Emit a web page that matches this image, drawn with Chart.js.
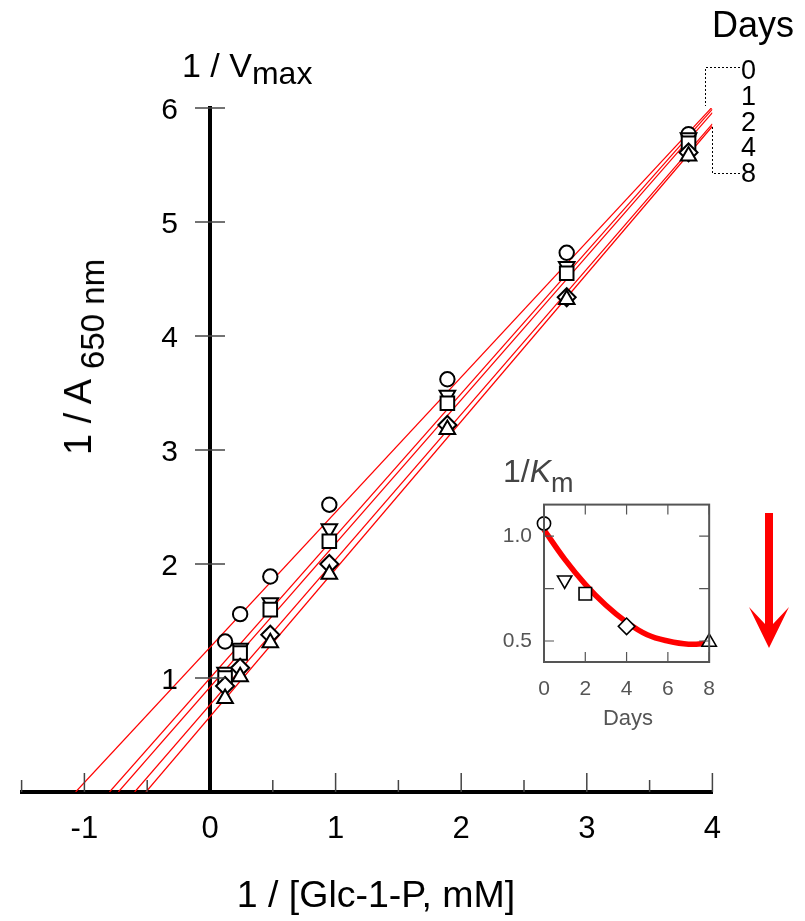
<!DOCTYPE html>
<html>
<head>
<meta charset="utf-8">
<script src="https://cdn.jsdelivr.net/npm/chart.js@4/dist/chart.umd.min.js"></script>
<style>
  html, body { margin: 0; padding: 0; background: #fff; }
  #wrap { position: relative; width: 805px; height: 921px; overflow: hidden; }
  canvas { position: absolute; }
  .t { position: absolute; font-family: "Liberation Sans", Arial, sans-serif; white-space: nowrap; color: #000; line-height: 1; }
</style>
</head>
<body>
<div id="wrap">
  <canvas id="main" width="805" height="921" style="left:0;top:0"></canvas>
  <canvas id="inset" width="250" height="260" style="left:480px;top:480px"></canvas>

  <div class="t" style="left:182px;top:48px;font-size:34px">1 / V<span style="font-size:32px;position:relative;top:7px">max</span></div>
  <div class="t" style="left:79px;top:357px;font-size:38px;line-height:38px;transform:translate(-50%,-50%) rotate(-90deg)">1 / A<span style="font-size:33px;position:relative;top:13px;margin-left:10px">650 nm</span></div>
  <div class="t" style="left:376px;top:876px;font-size:37.5px;transform:translateX(-50%)">1 / [Glc-1-P, mM]</div>

  <div class="t" style="left:712px;top:7px;font-size:36px">Days</div>
  <div class="t" id="dayList" style="left:741px;top:58px;font-size:27px;line-height:25.75px"></div>

  <div class="t" style="left:503px;top:455px;font-size:32px;color:#444">1/<i>K</i><span style="font-size:27px;position:relative;top:10px">m</span></div>
  <div class="t" style="left:628px;top:707px;font-size:22px;color:#555;transform:translateX(-50%)">Days</div>
</div>

<script>
// reciprocal substrate concentration (1 / [Glc-1-P, mM])
const invSubstrate = [0.12, 0.24, 0.48, 0.95, 1.89, 2.84, 3.81];

// 1 / A650 for each storage day
const day0 = [1.32, 1.56, 1.89, 2.52, 3.62, 4.73, 5.77];
const day1 = [1.05, 1.26, 1.66, 2.31, 3.48, 4.61, 5.74];
const day2 = [1.00, 1.22, 1.60, 2.20, 3.41, 4.55, 5.69];
const day4 = [0.93, 1.09, 1.38, 2.00, 3.22, 4.34, 5.61];
const day8 = [0.82, 1.01, 1.31, 1.91, 3.18, 4.32, 5.58];

// fitted lines: x-intercept (-1/Km) and value at the right end (x = 4)
const lineStartX = [-1.07, -0.80, -0.73, -0.60, -0.51];
const lineEndX = 4;
const lineEndY = [6.01, 5.99, 5.96, 5.86, 5.84];

// inset: 1/Km against days
const days = [0, 1, 2, 4, 8];
const kmInv = [1.06, 0.79, 0.725, 0.57, 0.495];
const trendX = [0, 1, 2, 3, 4, 5, 6, 7, 8];
const trendY = [1.03, 0.89, 0.77, 0.67, 0.59, 0.53, 0.50, 0.485, 0.49];
const insetYTicks = [0.5, 0.75, 1.0];

const series = [day0, day1, day2, day4, day8];

const FONT = '"Liberation Sans", Arial, sans-serif';
const RED = '#ff0000';

// marker look per day
const markers = [
    { pointStyle: 'circle', radius: 7.2, rotation: 0 },
    { pointStyle: 'triangle', radius: 9, rotation: 180 },
    { pointStyle: 'rect', radius: 9.6, rotation: 0 },
    { pointStyle: 'rectRot', radius: 9, rotation: 0 },
    { pointStyle: 'triangle', radius: 9, rotation: 0 },
];

document.getElementById("dayList").innerHTML = days.map(d => "<div>" + d + "</div>").join("");

// main chart datasets
const mainSets = [];
series.forEach((vals, i) => {
    mainSets.push({
        type: "scatter",
        data: [{ x: lineStartX[i], y: 0 }, { x: lineEndX, y: lineEndY[i] }],
        showLine: true,
        borderColor: RED,
        borderWidth: 1.2,
        pointRadius: 0,
        order: 20,
    });
});
series.forEach((vals, i) => {
    const m = markers[i];
    mainSets.push({
        type: "scatter",
        data: vals.map((v, j) => ({ x: invSubstrate[j], y: v })),
        pointStyle: m.pointStyle,
        pointRadius: m.radius,
        rotation: m.rotation,
        backgroundColor: "#fff",
        borderColor: "#000",
        borderWidth: 2,
        order: 10 - i,
    });
});

// extra drawing on the main chart: inward x ticks, y ticks and labels at x = 0, bracket, arrow
const mainDeco = {
    id: "mainDeco",
    afterDraw(chart) {
        const ctx = chart.ctx;
        const xs = chart.scales.x, ys = chart.scales.y;
        const y0 = ys.getPixelForValue(0);
        const x0 = xs.getPixelForValue(0);
        ctx.save();
        ctx.strokeStyle = "#444";
        ctx.lineWidth = 1.5;
        xs.ticks.forEach(t => {
            if (t.value === 0) return;
            const px = xs.getPixelForValue(t.value);
            const len = Number.isInteger(t.value) ? 19 : 12;
            ctx.beginPath();
            ctx.moveTo(px, y0);
            ctx.lineTo(px, y0 - len);
            ctx.stroke();
        });
        ctx.fillStyle = "#000";
        ctx.font = "30px " + FONT;
        ctx.textAlign = "right";
        ctx.textBaseline = "middle";
        ys.ticks.forEach(t => {
            if (t.value === 0) return;
            const py = ys.getPixelForValue(t.value);
            ctx.beginPath();
            ctx.moveTo(x0 - 15, py);
            ctx.lineTo(x0 + 15, py);
            ctx.stroke();
            ctx.fillText(String(t.value), x0 - 32, py + 3);
        });

        // dotted bracket joining the legend to the line ends
        ctx.strokeStyle = "#000";
        ctx.lineWidth = 1;
        ctx.setLineDash([2, 2]);
        ctx.beginPath();
        ctx.moveTo(740, 67.5); ctx.lineTo(705.5, 67.5); ctx.lineTo(705.5, 106);
        ctx.moveTo(740, 173.5); ctx.lineTo(712.5, 173.5); ctx.lineTo(712.5, 127);
        ctx.stroke();
        ctx.setLineDash([]);

        // red arrow next to the inset
        ctx.fillStyle = RED;
        ctx.beginPath();
        ctx.moveTo(765, 513);
        ctx.lineTo(773, 513);
        ctx.lineTo(773, 624);
        ctx.lineTo(789, 607);
        ctx.lineTo(769, 648);
        ctx.lineTo(749, 607);
        ctx.lineTo(765, 624);
        ctx.closePath();
        ctx.fill();
        ctx.restore();
    }
};

new Chart(document.getElementById("main"), {
    type: "scatter",
    data: { datasets: mainSets },
    options: {
        responsive: false,
        animation: false,
        layout: { padding: { left: 21.6, right: 92.6, top: 108, bottom: 0 } },
        plugins: { legend: { display: false }, tooltip: { enabled: false } },
        scales: {
            x: {
                type: "linear",
                position: "bottom",
                min: -1.5,
                max: 4,
                afterFit: (s) => { s.height = 129; },
                border: { color: "#000", width: 4 },
                grid: { display: false, drawTicks: false },
                ticks: {
                    stepSize: 0.5,
                    autoSkip: false,
                    maxRotation: 0,
                    padding: 19,
                    color: "#000",
                    font: { family: FONT, size: 31 },
                    callback: (v) => Number.isInteger(v) ? String(v) : "",
                },
            },
            y: {
                type: "linear",
                position: { x: 0 },
                min: 0,
                max: 6,
                border: { color: "#000", width: 4 },
                grid: { display: false, drawTicks: false },
                ticks: {
                    stepSize: 1,
                    callback: () => "",
                },
            },
        },
    },
    plugins: [mainDeco],
});

// inset frame with inward ticks on every side
const insetFrame = {
    id: "insetFrame",
    afterDraw(chart) {
        const { ctx, chartArea: a } = chart;
        const xs = chart.scales.x, ys = chart.scales.y;
        ctx.save();
        ctx.strokeStyle = "#555";
        ctx.lineWidth = 1.2;
        xs.ticks.forEach(t => {
            const px = xs.getPixelForValue(t.value);
            ctx.beginPath();
            ctx.moveTo(px, a.bottom); ctx.lineTo(px, a.bottom - 10);
            ctx.moveTo(px, a.top); ctx.lineTo(px, a.top + 10);
            ctx.stroke();
        });
        ys.ticks.forEach(t => {
            const py = ys.getPixelForValue(t.value);
            ctx.beginPath();
            ctx.moveTo(a.left, py); ctx.lineTo(a.left + 10, py);
            ctx.moveTo(a.right, py); ctx.lineTo(a.right - 10, py);
            ctx.stroke();
        });
        ctx.lineWidth = 2;
        ctx.strokeRect(a.left, a.top, a.right - a.left, a.bottom - a.top);
        ctx.restore();
    }
};

const insetSets = [{
    type: "line",
    data: trendX.map((x, i) => ({ x: x, y: trendY[i] })),
    borderColor: RED,
    borderWidth: 5.5,
    tension: 0.4,
    pointRadius: 0,
    fill: false,
    clip: false,
    order: 20,
}];
days.forEach((d, i) => {
    const m = markers[i];
    insetSets.push({
        type: "scatter",
        data: [{ x: d, y: kmInv[i] }],
        pointStyle: m.pointStyle,
        pointRadius: m.radius * 0.92,
        rotation: m.rotation,
        backgroundColor: "#fff",
        borderColor: "#000",
        borderWidth: 1.6,
        clip: false,
        order: 10 - i,
    });
});

new Chart(document.getElementById("inset"), {
    type: "scatter",
    data: { datasets: insetSets },
    options: {
        responsive: false,
        animation: false,
        layout: { padding: { left: 0, right: 12, top: 20, bottom: 0 } },
        plugins: { legend: { display: false }, tooltip: { enabled: false } },
        scales: {
            x: {
                type: "linear",
                min: 0,
                max: 8,
                afterFit: (s) => { s.height = 78; },
                border: { display: false },
                grid: { display: false, drawTicks: false },
                ticks: {
                    stepSize: 2,
                    padding: 15,
                    color: "#555",
                    font: { family: FONT, size: 21 },
                },
            },
            y: {
                type: "linear",
                min: 0.4,
                max: 1.15,
                afterFit: (s) => { s.width = 64; },
                afterBuildTicks: (s) => { s.ticks = insetYTicks.map(v => ({ value: v })); },
                border: { display: false },
                grid: { display: false, drawTicks: false },
                ticks: {
                    padding: 12,
                    color: "#555",
                    font: { family: FONT, size: 21 },
                    callback: (v) => (Math.abs(v - 0.75) < 1e-6) ? "" : v.toFixed(1),
                },
            },
        },
    },
    plugins: [insetFrame],
});
</script>
</body>
</html>
